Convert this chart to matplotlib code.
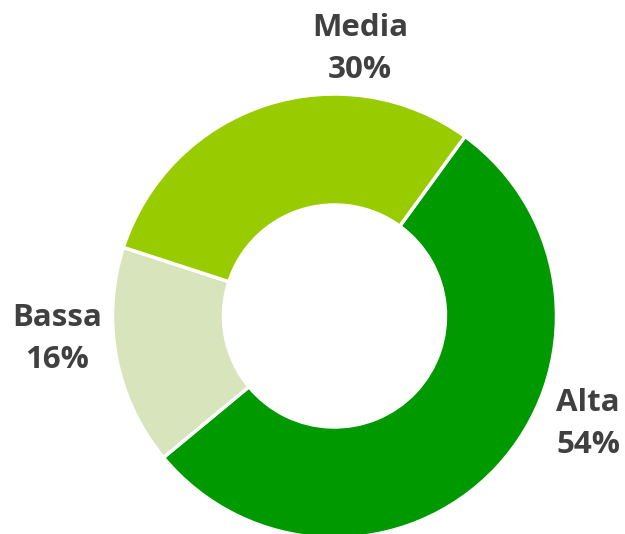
import matplotlib.pyplot as plt

labels = ['Alta', 'Bassa', 'Media']
values = [54, 16, 30]
colors = ['#009900', '#D8E4BC', '#99CC00']

# label anchor points in pixels (x, y from top) -- where the excel labels sit
label_px = [(588, 424), (57, 339), (360, 49)]

W, H = 625, 534
cx, cy, R = 334.5, 316, 222

fig = plt.figure(figsize=(W / 100, H / 100), dpi=100)
ax = fig.add_axes([0, 0, 1, 1])

wedges, _ = ax.pie(values, colors=colors, startangle=54, counterclock=False,
                   radius=1.0,
                   wedgeprops=dict(width=0.5, edgecolor='white', linewidth=2.5))

ax.set_xlim(-cx / R, (W - cx) / R)
ax.set_ylim(-(H - cy) / R, cy / R)
ax.set_aspect('equal')
ax.axis('off')

for lab, val, (px, py) in zip(labels, values, label_px):
    ax.text((px - cx) / R, (cy - py) / R, f'{lab}\n{val}%',
            ha='center', va='center', fontsize=22.5, fontweight='bold',
            family='Open Sans', color='#404040', linespacing=1.55)

fig.savefig('out.png', dpi=100)
